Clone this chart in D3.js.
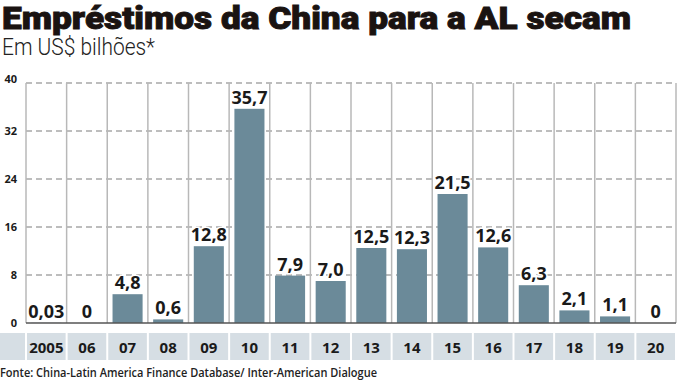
<!DOCTYPE html>
<html>
<head>
<meta charset="utf-8">
<script src="https://cdn.jsdelivr.net/npm/d3@7/dist/d3.min.js"></script>
<style>
  html, body { margin: 0; padding: 0; background: #fff; }
  svg { display: block; }
</style>
</head>
<body>
<svg id="chart" width="678" height="381"></svg>
<script>
const categories = ["2005","06","07","08","09","10","11","12","13","14","15","16","17","18","19","20"];
const values = [0.03, 0, 4.8, 0.6, 12.8, 35.7, 7.9, 7.0, 12.5, 12.3, 21.5, 12.6, 6.3, 2.1, 1.1, 0];
const valueLabels = ["0,03","0","4,8","0,6","12,8","35,7","7,9","7,0","12,5","12,3","21,5","12,6","6,3","2,1","1,1","0"];
const yTicks = [0, 8, 16, 24, 32, 40];
const titleText = "Empréstimos da China para a AL secam";
const subtitleText = "Em US$ bilhões*";
const sourceText = "Fonte: China-Latin America Finance Database/ Inter-American Dialogue";

const svg = d3.select("#chart");
const plotLeft = 26, plotRight = 676, plotTop = 83, plotBottom = 323;
const barColor = "#6b8a99";
const font = "'Open Sans', 'Liberation Sans', sans-serif";

const xCol = d3.scaleBand().domain(categories).range([plotLeft, plotRight]).padding(0);
const x = d3.scaleBand().domain(categories).range([plotLeft, plotRight]).paddingInner(0.26).paddingOuter(0.13);
const y = d3.scaleLinear().domain([0, 40]).range([plotBottom, plotTop]);

// Title
svg.append("text").attr("x", 2).attr("y", 29)
  .attr("font-family", "Roboto, 'Open Sans', sans-serif").attr("font-weight", 900)
  .attr("font-size", 31).attr("fill", "#1a1311")
  .attr("stroke", "#1a1311").attr("stroke-width", 0.9)
  .attr("textLength", 629).attr("lengthAdjust", "spacingAndGlyphs")
  .text(titleText);

svg.append("text").attr("x", 2).attr("y", 55)
  .attr("font-family", "Roboto, 'Open Sans', sans-serif").attr("font-weight", 300)
  .attr("font-size", 23).attr("fill", "#222")
  .attr("textLength", 153).attr("lengthAdjust", "spacingAndGlyphs")
  .text(subtitleText);

// Dashed gridlines
svg.append("g").selectAll("line").data(yTicks.filter(d => d > 0)).join("line")
  .attr("x1", plotLeft).attr("x2", plotRight)
  .attr("y1", d => y(d)).attr("y2", d => y(d))
  .attr("stroke", "#a8a8a8").attr("stroke-width", 1.4).attr("stroke-dasharray", "6,4");

// Vertical column lines
const bounds = categories.map(c => xCol(c)).concat([plotRight]);
svg.append("g").selectAll("line").data(bounds).join("line")
  .attr("x1", d => d).attr("x2", d => d)
  .attr("y1", plotTop).attr("y2", plotBottom)
  .attr("stroke", "#b8b8b8").attr("stroke-width", 1.5);

// Bars
svg.append("g").selectAll("rect").data(values).join("rect")
  .attr("x", (d, i) => x(categories[i]))
  .attr("width", x.bandwidth())
  .attr("y", d => y(d))
  .attr("height", d => y(0) - y(d))
  .attr("fill", barColor);

// Baseline
svg.append("line").attr("x1", plotLeft).attr("x2", plotRight)
  .attr("y1", y(0)).attr("y2", y(0))
  .attr("stroke", "#555").attr("stroke-width", 1.5);

// Value labels
svg.append("g").selectAll("text").data(values).join("text")
  .attr("x", (d, i) => xCol(categories[i]) + xCol.bandwidth() / 2)
  .attr("y", d => y(d) - 5)
  .attr("text-anchor", "middle")
  .attr("font-family", font).attr("font-weight", 700).attr("font-size", 18)
  .attr("fill", "#1a1a1a")
  .attr("stroke", "#fff").attr("stroke-width", 3).attr("paint-order", "stroke")
  .text((d, i) => valueLabels[i]);

// Y axis
const yAxis = d3.axisLeft(y).tickValues(yTicks).tickSize(0).tickPadding(0);
const gy = svg.append("g").attr("transform", "translate(17,0)").call(yAxis);
gy.select(".domain").remove();
gy.selectAll("text").attr("font-family", font).attr("font-weight", 700)
  .attr("font-size", 11).attr("fill", "#1a1a1a");
gy.selectAll(".tick").filter(d => d === 40).select("text").attr("dy", "-0.05em");

// Category band
const bandTop = 333, bandH = 27;
svg.append("rect").attr("x", 0).attr("y", bandTop).attr("width", plotLeft - 1).attr("height", bandH).attr("fill", "#d6dee4");
svg.append("g").selectAll("rect").data(categories).join("rect")
  .attr("x", d => xCol(d) + 1)
  .attr("width", xCol.bandwidth() - 2)
  .attr("y", bandTop).attr("height", bandH)
  .attr("fill", "#d6dee4");

const xAxis = d3.axisBottom(xCol).tickSize(0).tickPadding(0);
const gx = svg.append("g").attr("transform", `translate(0,${bandTop})`).call(xAxis);
gx.select(".domain").remove();
gx.selectAll("text").attr("font-family", font).attr("font-weight", 700)
  .attr("font-size", 15).attr("fill", "#1a1a1a")
  .attr("y", 20).attr("dy", 0);

// Source
svg.append("text").attr("x", 0).attr("y", 377)
  .attr("font-family", font).attr("font-weight", 600)
  .attr("font-size", 12).attr("fill", "#222")
  .attr("textLength", 377).attr("lengthAdjust", "spacingAndGlyphs")
  .text(sourceText);
</script>
</body>
</html>
